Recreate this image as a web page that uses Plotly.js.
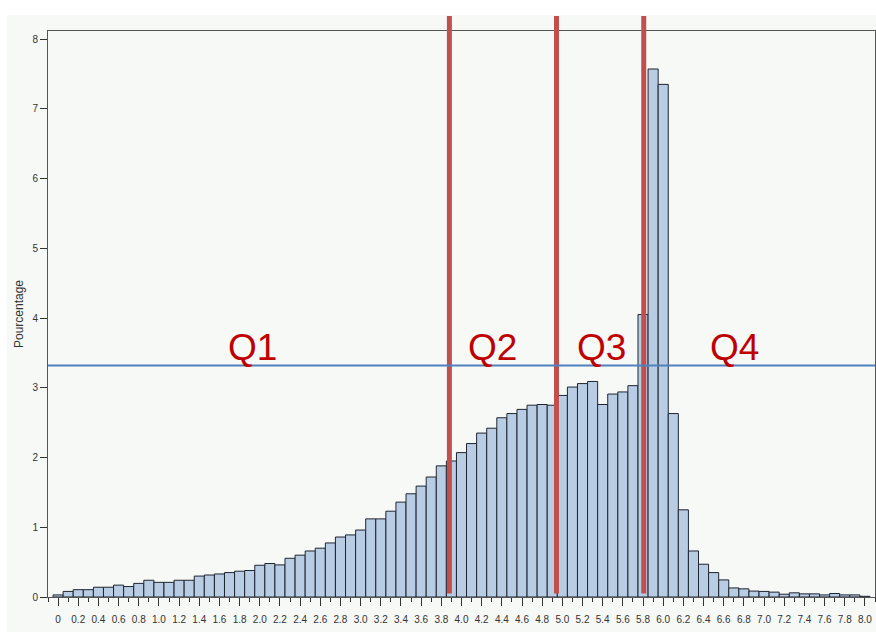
<!DOCTYPE html>
<html>
<head>
<meta charset="utf-8">
<script src="https://cdn.plot.ly/plotly-3.0.1.min.js"></script>
<style>html,body{margin:0;padding:0;background:#fff;}#chart{width:876px;height:632px;}</style>
</head>
<body>
<div id="chart"></div>
<script>
const binCenters = [0.0,0.1,0.2,0.3,0.4,0.5,0.6,0.7,0.8,0.9,
  1.0,1.1,1.2,1.3,1.4,1.5,1.6,1.7,1.8,1.9,
  2.0,2.1,2.2,2.3,2.4,2.5,2.6,2.7,2.8,2.9,
  3.0,3.1,3.2,3.3,3.4,3.5,3.6,3.7,3.8,3.9,
  4.0,4.1,4.2,4.3,4.4,4.5,4.6,4.7,4.8,4.9,
  5.0,5.1,5.2,5.3,5.4,5.5,5.6,5.7,5.8,5.9,
  6.0,6.1,6.2,6.3,6.4,6.5,6.6,6.7,6.8,6.9,
  7.0,7.1,7.2,7.3,7.4,7.5,7.6,7.7,7.8,7.9,8.0];
const percentages = [0.03,0.08,0.105,0.105,0.14,0.14,0.17,0.15,0.195,0.24,
  0.21,0.21,0.24,0.24,0.30,0.315,0.33,0.35,0.37,0.38,
  0.455,0.48,0.46,0.555,0.60,0.66,0.70,0.775,0.86,0.89,
  0.96,1.12,1.12,1.23,1.36,1.48,1.59,1.72,1.88,1.95,
  2.07,2.20,2.35,2.42,2.57,2.63,2.69,2.75,2.76,2.75,
  2.89,3.01,3.06,3.09,2.76,2.91,2.94,3.03,4.05,7.57,
  7.35,2.63,1.25,0.66,0.47,0.35,0.245,0.13,0.117,0.085,
  0.08,0.07,0.04,0.06,0.045,0.045,0.03,0.05,0.03,0.03,0.01];
const xTickVals = [0,0.2,0.4,0.6,0.8,1.0,1.2,1.4,1.6,1.8,2.0,2.2,2.4,2.6,2.8,3.0,3.2,3.4,3.6,3.8,
  4.0,4.2,4.4,4.6,4.8,5.0,5.2,5.4,5.6,5.8,6.0,6.2,6.4,6.6,6.8,7.0,7.2,7.4,7.6,7.8,8.0];
const xTickText = ["0","0.2","0.4","0.6","0.8","1.0","1.2","1.4","1.6","1.8","2.0","2.2","2.4","2.6","2.8","3.0","3.2","3.4","3.6","3.8",
  "4.0","4.2","4.4","4.6","4.8","5.0","5.2","5.4","5.6","5.8","6.0","6.2","6.4","6.6","6.8","7.0","7.2","7.4","7.6","7.8","8.0"];
const quartileCuts = [3.88, 4.942, 5.807];
const meanLevel = 3.32;
const quartileLabels = ["Q1","Q2","Q3","Q4"];
const quartileLabelX = [1.93, 4.31, 5.39, 6.71];
const quartileLabelY = 3.58;

const trace = {
  type: 'bar',
  x: binCenters,
  y: percentages,
  width: 0.1,
  marker: {color: '#b8cce4', line: {color: '#1e2530', width: 1}},
  hoverinfo: 'x+y'
};

const shapes = [
  {type:'rect', xref:'paper', yref:'paper', x0:-0.05, x1:1.01, y0:-0.08, y1:1.0283,
   fillcolor:'#f6f9f6', line:{width:0}, layer:'below'}
];
quartileCuts.forEach(c => shapes.push({
  type:'line', xref:'x', yref:'paper', x0:c, x1:c, y0:0.006, y1:1.0265,
  line:{color:'#c0504d', width:5}, layer:'above'
}));
shapes.push({type:'line', xref:'paper', yref:'y', x0:0, x1:1, y0:meanLevel, y1:meanLevel,
  line:{color:'#4f81bd', width:2}, layer:'above'});

const annotations = quartileLabels.map((t,i) => ({
  x: quartileLabelX[i], y: quartileLabelY, xref:'x', yref:'y', text:t, showarrow:false,
  font:{family:'Arial, Liberation Sans, sans-serif', size:37, color:'#c00000'}
}));

const layout = {
  width: 876, height: 632,
  margin: {l:48, r:1, t:31, b:35, pad:0},
  paper_bgcolor: '#ffffff',
  plot_bgcolor: '#f6f9f6',
  showlegend: false,
  bargap: 0,
  font: {family:'Arial, Liberation Sans, sans-serif', color:'#333'},
  xaxis: {
    range: [-0.1, 8.1],
    tickmode: 'array', tickvals: xTickVals, ticktext: xTickText,
    ticks: 'outside', ticklen: 8, tickwidth: 1, tickcolor: '#333',
    ticklabelstandoff: 5,
    minor: {tick0: 0, dtick: 0.1, ticks: 'outside', ticklen: 4, tickwidth: 1, tickcolor: '#333', showgrid: false},
    showline: true, linecolor: '#555', linewidth: 1, mirror: true,
    showgrid: false, zeroline: false,
    tickfont: {size: 10, color: '#333'}
  },
  yaxis: {
    range: [0, 8.115],
    tickmode: 'linear', tick0: 0, dtick: 1,
    ticks: 'outside', ticklen: 7, tickwidth: 1, tickcolor: '#333',
    showline: true, linecolor: '#555', linewidth: 1, mirror: true,
    showgrid: false, zeroline: false,
    tickfont: {size: 10, color: '#333'},
    title: {text: 'Pourcentage', font: {size: 12, color: '#333'}, standoff: 6}
  },
  shapes: shapes,
  annotations: annotations
};

Plotly.newPlot('chart', [trace], layout, {displayModeBar: false, staticPlot: true});
</script>
</body>
</html>
